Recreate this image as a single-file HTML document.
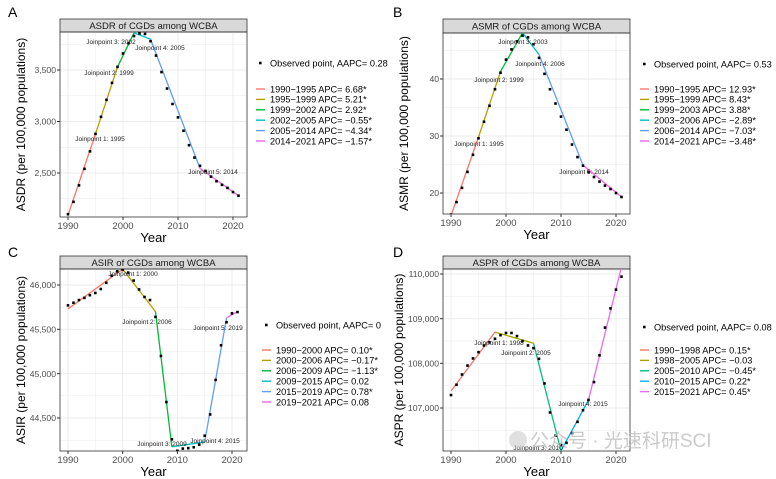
<!DOCTYPE html>
<html><head><meta charset="utf-8"><style>
body{margin:0;background:#fff;}
svg{display:block;font-family:"Liberation Sans",Arial,sans-serif;}
</style></head><body>
<svg id="c" width="776" height="479" viewBox="0 0 776 479"></svg>
<script>
const years=[1990,1991,1992,1993,1994,1995,1996,1997,1998,1999,2000,2001,2002,2003,2004,2005,2006,2007,2008,2009,2010,2011,2012,2013,2014,2015,2016,2017,2018,2019,2020,2021];
const asdrObs=[2100,2220,2380,2540,2710,2880,3045,3210,3375,3530,3660,3760,3830,3855,3850,3780,3640,3480,3320,3170,3040,2910,2770,2650,2570,2520,2465,2420,2385,2355,2315,2280];
const asdrJpYears=[1990,1995,1999,2002,2005,2014,2021];
const asdrJpVals=[2090,2880,3530,3860,3800,2545,2280];
const asdrLegend=["1990\u22121995 APC= 6.68*","1995\u22121999 APC= 5.21*","1999\u22122002 APC= 2.92*","2002\u22122005 APC= \u22120.55*","2005\u22122014 APC= \u22124.34*","2014\u22122021 APC= \u22121.57*"];
const asdrTicks=[2500,3000,3500];
const asdrTickLabels=["2,500","3,000","3,500"];

const asmrObs=[16.2,18.4,20.9,23.7,26.7,29.6,32.5,35.3,38.2,41.1,43.4,45.2,46.6,47.6,47.3,46.1,43.7,40.9,38.2,35.7,33.4,31.1,28.5,26.3,24.8,23.7,22.8,22.0,21.3,20.7,20.0,19.3];
const asmrJpYears=[1990,1995,1999,2003,2006,2014,2021];
const asmrJpVals=[16.0,29.8,41.3,48.1,44.3,24.9,19.3];
const asmrLegend=["1990\u22121995 APC= 12.93*","1995\u22121999 APC= 8.43*","1999\u22122003 APC= 3.88*","2003\u22122006 APC= \u22122.89*","2006\u22122014 APC= \u22127.03*","2014\u22122021 APC= \u22123.48*"];
const asmrTicks=[20,30,40];
const asmrTickLabels=["20","30","40"];

const asirObs=[45770,45800,45830,45855,45885,45910,45955,46025,46105,46155,46170,46140,46050,45950,45865,45830,45640,45200,44680,44260,44130,44155,44160,44170,44200,44300,44540,44930,45320,45580,45680,45695];
const asirJpYears=[1990,2000,2006,2009,2015,2019,2021];
const asirJpVals=[45730,46180,45700,44175,44230,45630,45700];
const asirLegend=["1990\u22122000 APC= 0.10*","2000\u22122006 APC= \u22120.17*","2006\u22122009 APC= \u22121.13*","2009\u22122015 APC= 0.02","2015\u22122019 APC= 0.78*","2019\u22122021 APC= 0.08"];
const asirTicks=[44500,45000,45500,46000];
const asirTickLabels=["44,500","45,000","45,500","46,000"];

const asprObs=[107290,107520,107750,107950,108110,108250,108400,108470,108550,108630,108680,108680,108610,108500,108400,108340,108100,107550,106900,106380,106170,106220,106440,106690,106950,107180,107580,108180,108800,109230,109650,109940];
const asprJpYears=[1990,1998,2005,2010,2015,2021];
const asprJpVals=[107380,108700,108450,106040,107180,110160];
const asprLegend=["1990\u22121998 APC= 0.15*","1998\u22122005 APC= \u22120.03","2005\u22122010 APC= \u22120.45*","2010\u22122015 APC= 0.22*","2015\u22122021 APC= 0.45*"];
const asprTicks=[107000,108000,109000,110000];
const asprTickLabels=["107,000","108,000","109,000","110,000"];

const xTicks=[1990,2000,2010,2020];

const NS="http://www.w3.org/2000/svg";
const svg=document.getElementById('c');
function mk(tag,attrs,parent,text){const e=document.createElementNS(NS,tag);for(const k in attrs)e.setAttribute(k,attrs[k]);if(text!==undefined)e.textContent=text;(parent||svg).appendChild(e);return e;}

const col6=["#F8766D","#B79F00","#00BA38","#00BFC4","#619CFF","#F564E3"];
const col5=["#F8766D","#A3A500","#00BF7D","#00B0F6","#E76BF3"];

const panels=[
 {id:'a',letter:'A',lx:8,ly:17,title:'ASDR of CGDs among WCBA',ytitle:'ASDR (per 100,000 populations)',L:60,R:247,T:32,B:217,sT:19,x1990:68,ppy:5.5,v1:2500,p1:173,v2:3500,p2:70,obs:asdrObs,jy:asdrJpYears,jv:asdrJpVals,leg:asdrLegend,ticks:asdrTicks,tl:asdrTickLabels,cols:col6,obsX:256,obsY:63,legY:89,legX:256,ytx:25,
  labels:[["Joinpoint 1: 1995",100,141],["Joinpoint 2: 1999",109,75],["Joinpoint 3: 2002",111,44],["Joinpoint 4: 2005",160,50],["Joinpoint 5: 2014",213,174]]},
 {id:'b',letter:'B',lx:393,ly:17,title:'ASMR of CGDs among WCBA',ytitle:'ASMR (per 100,000 populations)',L:443,R:630,T:33,B:214,sT:19,x1990:451,ppy:5.5,v1:20,p1:193,v2:40,p2:79,obs:asmrObs,jy:asmrJpYears,jv:asmrJpVals,leg:asmrLegend,ticks:asmrTicks,tl:asmrTickLabels,cols:col6,obsX:640,obsY:64,legY:89,legX:640,ytx:408,
  labels:[["Joinpoint 1: 1995",479,146],["Joinpoint 2: 1999",499,82],["Joinpoint 3: 2003",523,44],["Joinpoint 4: 2006",540,66],["Joinpoint 5: 2014",584,174]]},
 {id:'c',letter:'C',lx:8,ly:257,title:'ASIR of CGDs among WCBA',ytitle:'ASIR (per 100,000 populations)',L:60,R:247,T:269,B:451,sT:256,x1990:68,ppy:5.467,v1:44500,p1:418,v2:46000,p2:285,obs:asirObs,jy:asirJpYears,jv:asirJpVals,leg:asirLegend,ticks:asirTicks,tl:asirTickLabels,cols:col6,obsX:262,obsY:325,legY:350,legX:262,ytx:25,
  labels:[["Joinpoint 1: 2000",133,276],["Joinpoint 2: 2006",147,324],["Joinpoint 3: 2009",162,446],["Joinpoint 4: 2015",215,443],["Joinpoint 5: 2019",218,330]]},
 {id:'d',letter:'D',lx:393,ly:257,title:'ASPR of CGDs among WCBA',ytitle:'ASPR (per 100,000 populations)',L:443,R:630,T:269,B:451,sT:256,x1990:451,ppy:5.5,v1:107000,p1:408,v2:110000,p2:274,obs:asprObs,jy:asprJpYears,jv:asprJpVals,leg:asprLegend,ticks:asprTicks,tl:asprTickLabels,cols:col5,obsX:640,obsY:327,legY:350,legX:640,ytx:403,
  labels:[["Joinpoint 1: 1998",499,345],["Joinpoint 2: 2005",526,355],["Joinpoint 3: 2010",538,450],["Joinpoint 4: 2015",583,406]]}
];

panels.forEach(p=>{
 const g=mk('g',{},svg);
 
 
 const X=y=>p.x1990+(y-1990)*p.ppy;
 const Y=v=>p.p1+(v-p.v1)*(p.p2-p.p1)/(p.v2-p.v1);
 const lt=mk('text',{x:p.lx,y:p.ly,'font-size':14,fill:'#000'},g,p.letter);
 
 const st=mk('rect',{x:p.L,y:p.sT,width:p.R-p.L,height:p.T-p.sT,fill:'#D9D9D9',stroke:'#333','stroke-width':0.8},g);
 
 const tt=mk('text',{x:(p.L+p.R)/2,y:p.sT+(p.T-p.sT)/2+3.5,'font-size':9.5,'text-anchor':'middle',fill:'#1a1a1a'},g,p.title);
 
 const clipId='clip'+p.id;
 const cp=mk('clipPath',{id:clipId},g);mk('rect',{x:p.L,y:p.T,width:p.R-p.L,height:p.B-p.T},cp);
 const grid=mk('g',{stroke:'#EBEBEB'},g);
 
 const step=p.ticks[1]-p.ticks[0];
 for(let v=p.ticks[0]-step*2;v<=p.ticks[p.ticks.length-1]+step*2;v+=step/2){const yy=Y(v);if(yy>p.T&&yy<p.B)mk('line',{x1:p.L,x2:p.R,y1:yy,y2:yy,'stroke-width':(Math.abs((v-p.ticks[0])%step)<1e-9)?0.9:0.5},grid);}
 for(let yr=1985;yr<=2025;yr+=5){const xx=X(yr);if(xx>p.L&&xx<p.R)mk('line',{x1:xx,x2:xx,y1:p.T,y2:p.B,'stroke-width':yr%10===0?0.9:0.5},grid);}
 mk('rect',{x:p.L,y:p.T,width:p.R-p.L,height:p.B-p.T,fill:'none',stroke:'#333','stroke-width':0.8},g);
 xTicks.forEach(t=>{const xx=X(t);mk('line',{x1:xx,x2:xx,y1:p.B,y2:p.B+3,stroke:'#333'},g);
  const e=mk('text',{x:xx,y:p.B+12,'font-size':9.5,'text-anchor':'middle',fill:'#4d4d4d'},g,String(t));
  });
 p.ticks.forEach((t,i)=>{const yy=Y(t);mk('line',{x1:p.L-3,x2:p.L,y1:yy,y2:yy,stroke:'#333'},g);
  const e=mk('text',{x:p.L-4,y:yy+3.2,'font-size':8.6,'text-anchor':'end',fill:'#4d4d4d'},g,p.tl[i]);
  });
 const xt=mk('text',{x:(p.L+p.R)/2,y:p.B+25,'font-size':13,'text-anchor':'middle',fill:'#000'},g,'Year');
 
 const yc=(p.T+p.B)/2;
 const yt=mk('text',{x:p.ytx,y:yc,'font-size':12,'text-anchor':'middle',fill:'#000',transform:`rotate(-90 ${p.ytx} ${yc})`},g,p.ytitle);
 
 const sg=mk('g',{'clip-path':`url(#${clipId})`},g);
 for(let i=0;i<p.jy.length-1;i++){
  const l=mk('line',{x1:X(p.jy[i]),y1:Y(p.jv[i]),x2:X(p.jy[i+1]),y2:Y(p.jv[i+1]),stroke:p.cols[i],'stroke-width':1.3},sg);
  
 }
 p.obs.forEach((v,i)=>{const r=mk('rect',{x:X(years[i])-1.3,y:Y(v)-1.3,width:2.6,height:2.6,fill:'#000'},sg);
  });
 p.labels.forEach(l=>{const e=mk('text',{x:l[1],y:l[2],'font-size':6.5,'text-anchor':'middle',fill:'#222'},g,l[0]);
  });
 const lg=mk('g',{},g);
 
 mk('rect',{x:p.obsX+3,y:p.obsY-1.3,width:2.6,height:2.6,fill:'#000'},lg);
 const ot=mk('text',{x:p.obsX+14,y:p.obsY+3.3,'font-size':9.2,fill:'#000'},lg,'Observed point, AAPC= '+({a:'0.28',b:'0.53',c:'0',d:'0.08'})[p.id]);
 
 p.leg.forEach((s,i)=>{const yy=p.legY+i*10.4;
  mk('line',{x1:p.legX,x2:p.legX+9,y1:yy,y2:yy,stroke:p.cols[i],'stroke-width':1.4},lg);
  const e=mk('text',{x:p.legX+14,y:yy+3.3,'font-size':9.2,fill:'#000'},lg,s);
  });
});
const wm=mk('text',{x:530,y:447,'font-size':19,fill:'#bdbdbd','fill-opacity':0.8},svg,'公众号 · 光速科研SCI');

wm.setAttribute('font-family','"Liberation Sans","Noto Sans CJK SC",sans-serif');
const wc=mk('circle',{cx:518,cy:440,r:9,fill:'#ccc','fill-opacity':0.6},svg);

</script>
</body></html>
